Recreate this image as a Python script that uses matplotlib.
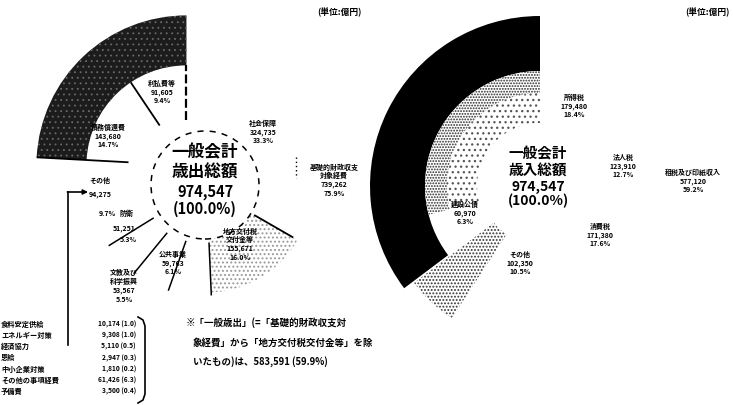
import matplotlib
matplotlib.use('Agg')
import numpy as np
import matplotlib.pyplot as plt
from matplotlib.patches import Wedge, Circle

plt.rcParams['font.family'] = ['Noto Sans CJK JP', 'DejaVu Sans']
plt.rcParams['font.weight'] = 'bold'
plt.rcParams['hatch.linewidth'] = 0.9

W, H = 733, 405

# 歳出 (億円) - counter-clockwise from 12 o'clock
exp_names = ['国債費', 'その他', '防衛', '文教及び\n科学振興', '公共事業', '地方交付税\n交付金等', '社会保障']
exp_vals = [235285, 94275, 51251, 53567, 59763, 155671, 324735]
exp_total = 974547
debt_names = ['利払費等', '債務償還費']
debt_vals = [91605, 143680]
basic_name = '基礎的財政収支\n対象経費'
basic_val = 739262
general_val = 583591

misc_names = ['食料安定供給', 'エネルギー対策', '経済協力', '恩給', '中小企業対策', 'その他の事項経費', '予備費']
misc_vals = [10174, 9308, 5110, 2947, 1810, 61426, 3500]

# 歳入 (億円) - clockwise from 12 o'clock
rev_names = ['所得税', '法人税', '消費税', 'その他', 'その他収入', '建設公債', '特例公債']
rev_vals = [179480, 123910, 171380, 102350, 53729, 60970, 282728]
rev_total = 974547
tax_name = '租税及び印紙収入'
tax_val = 577120


def num(v):
    return f'{v:,}'


def pct(v, total=exp_total):
    return f'{v / total * 100:.1f}%'


def Y(y):
    return H - y


fig = plt.figure(figsize=(W / 100, H / 100), dpi=100)
ax = fig.add_axes([0, 0, 1, 1])

# ---------------- left: 歳出 ----------------
cxL, cyL = 205, Y(185)
explode_L = [27, 4, 6, 6, 4, 3, 0]   # offsets in px (data units)
wL, _ = ax.pie(exp_vals, radius=105, center=(cxL, cyL), startangle=90,
               counterclock=True, explode=explode_L, frame=True,
               wedgeprops=dict(facecolor='white', edgecolor='none', linewidth=0))

debt = wL[0]
plt.rcParams['hatch.linewidth'] = 0.6
ax.add_patch(Wedge(debt.center, 150, debt.theta1, debt.theta2, width=50,
                   facecolor='#1c1c1c', edgecolor='#6a6a6a', hatch='...',
                   linewidth=0, zorder=2))
plt.rcParams['hatch.linewidth'] = 0.9


def radial(center, ang, r0, r1, **kw):
    a = np.deg2rad(ang)
    ax.plot([center[0] + r0 * np.cos(a), center[0] + r1 * np.cos(a)],
            [center[1] + r0 * np.sin(a), center[1] + r1 * np.sin(a)],
            color='black', zorder=3, solid_capstyle='butt', **kw)


split = debt.theta1 + debt_vals[0] / sum(debt_vals) * (debt.theta2 - debt.theta1)
radial(debt.center, split, 48, 100, lw=1.3)
radial(debt.center, debt.theta1, 45, 100, lw=1.6, linestyle=(0, (4, 1.5)))
radial(debt.center, debt.theta2, 58, 150, lw=1.3)

loc = wL[5]
ax.add_patch(Wedge(loc.center, 105, loc.theta1, loc.theta2, width=55,
                   facecolor='white', edgecolor='#9a9a9a', hatch='....',
                   linewidth=0, zorder=2))
for w in wL[2:6]:
    radial(w.center, w.theta1, 55, 108, lw=1.1)
radial(loc.center, loc.theta2, 55, 100, lw=1.3)

ax.add_patch(Circle((cxL, cyL), 54, facecolor='white', edgecolor='black',
                    linewidth=1.1, linestyle=(0, (4, 4)), zorder=4))

small = dict(ha='center', va='center', fontsize=5, linespacing=1.25, zorder=5)
ax.text(162, Y(92), f'{debt_names[0]}\n{num(debt_vals[0])}\n{pct(debt_vals[0])}', **small)
ax.text(108, Y(136), f'{debt_names[1]}\n{num(debt_vals[1])}\n{pct(debt_vals[1])}', **small)
ax.text(263, Y(132), f'{exp_names[6]}\n{num(exp_vals[6])}\n{pct(exp_vals[6])}', **small)
ax.text(334, Y(180), f'{basic_name}\n{num(basic_val)}\n{pct(basic_val)}', **small)
ax.plot([296, 296], [Y(157), Y(178)], color='black', lw=1, linestyle=(0, (1, 2)))
ax.text(100, Y(180), exp_names[1], **small)
ax.text(100, Y(195), num(exp_vals[1]), **small)
ax.text(107, Y(213), pct(exp_vals[1]), **small)
ax.text(126, Y(213), exp_names[2], **small)
ax.text(124, Y(229), num(exp_vals[2]), **small)
ax.text(128, Y(240), pct(exp_vals[2]), **small)
ax.text(124, Y(286), f'{exp_names[3]}\n{num(exp_vals[3])}\n{pct(exp_vals[3])}', **small)
ax.text(173, Y(263), f'{exp_names[4]}\n{num(exp_vals[4])}\n{pct(exp_vals[4])}', **small)
ax.text(240, Y(244), f'{exp_names[5]}\n{num(exp_vals[5])}\n{pct(exp_vals[5])}', **small)

big = dict(ha='center', va='center', zorder=5)
ax.text(cxL, Y(152), '一般会計', fontsize=12, **big)
ax.text(cxL, Y(173), '歳出総額', fontsize=12, **big)
ax.text(cxL, Y(192), num(exp_total), fontsize=10.5, **big)
ax.text(cxL, Y(209), f'({pct(exp_total)})', fontsize=10.5, **big)

# その他 breakdown
ax.plot([68, 68], [Y(345), Y(192)], color='black', lw=1.2)
ax.annotate('', xy=(88, Y(192)), xytext=(67.4, Y(192)),
            arrowprops=dict(arrowstyle='-|>', lw=1.2, color='black',
                            mutation_scale=7, shrinkA=0, shrinkB=0))
for i, (n, v) in enumerate(zip(misc_names, misc_vals)):
    yy = Y(324 + i * 11.3)
    ax.text(1, yy, n, ha='left', va='center', fontsize=5.2, zorder=5)
    ax.text(136, yy, f'{num(v)} ({v / exp_total * 100:.1f})', ha='right',
            va='center', fontsize=4.8, zorder=5)
ax.plot([138, 143, 145, 145, 143, 138],
        [Y(317), Y(320), Y(326), Y(394), Y(400), Y(403)], color='black', lw=1.2)

note = ['※「一般歳出」(=「基礎的財政収支対',
        '象経費」から「地方交付税交付金等」を除',
        f'いたもの)は、{num(general_val)} ({pct(general_val)})']
ax.text(186, Y(323), note[0], ha='left', va='center', fontsize=6.8)
ax.text(193, Y(343), note[1], ha='left', va='center', fontsize=6.8)
ax.text(193, Y(362), note[2], ha='left', va='center', fontsize=6.8)

ax.text(362, Y(12), '(単位:億円)', ha='right', va='center', fontsize=6.3)

# ---------------- right: 歳入 ----------------
cxR, cyR = 540, Y(186)
explode_R = [0, 0, 0, 0, 9, 0, 0]
wR, _ = ax.pie(rev_vals, radius=115, center=(cxR, cyR), startangle=90,
               counterclock=False, explode=explode_R, frame=True,
               wedgeprops=dict(facecolor='white', edgecolor='none', linewidth=0))

bond_lo = min(wR[5].theta1, wR[6].theta1)
bond_hi = max(wR[5].theta2, wR[6].theta2)
ax.add_patch(Wedge((cxR, cyR), 170, bond_lo, bond_hi, width=55,
                   facecolor='black', edgecolor='none', zorder=2))
sp = wR[6]
ax.add_patch(Wedge(sp.center, 115, sp.theta1, sp.theta2, width=22,
                   facecolor='white', edgecolor='#2a2a2a', hatch='......',
                   linewidth=0, zorder=2))
ax.add_patch(Wedge(sp.center, 93, sp.theta1, sp.theta2, width=30,
                   facecolor='white', edgecolor='#555555', hatch='...',
                   linewidth=0, zorder=2))
oth = wR[4]
ax.add_patch(Wedge(oth.center, 150, oth.theta1, oth.theta2, width=100,
                   facecolor='white', edgecolor='#333333', hatch='.....',
                   linewidth=0, zorder=2))

ax.text(574, Y(106), f'{rev_names[0]}\n{num(rev_vals[0])}\n{pct(rev_vals[0], rev_total)}', **small)
ax.text(623, Y(166), f'{rev_names[1]}\n{num(rev_vals[1])}\n{pct(rev_vals[1], rev_total)}', **small)
ax.text(693, Y(181), f'{tax_name}\n{num(tax_val)}\n{pct(tax_val, rev_total)}', **small)
ax.text(600, Y(235), f'{rev_names[2]}\n{num(rev_vals[2])}\n{pct(rev_vals[2], rev_total)}', **small)
ax.text(520, Y(263), f'{rev_names[3]}\n{num(rev_vals[3])}\n{pct(rev_vals[3], rev_total)}', **small)
ax.text(465, Y(213), f'{rev_names[5]}\n{num(rev_vals[5])}\n{pct(rev_vals[5], rev_total)}', **small)

ax.text(538, Y(153), '一般会計', fontsize=10.5, **big)
ax.text(538, Y(170), '歳入総額', fontsize=10.5, **big)
ax.text(538, Y(187), num(rev_total), fontsize=10, **big)
ax.text(538, Y(201), f'({pct(rev_total, rev_total)})', fontsize=10, **big)

ax.text(730, Y(12), '(単位:億円)', ha='right', va='center', fontsize=6.3)

ax.set_xlim(0, W)
ax.set_ylim(0, H)
ax.set_aspect('equal')
ax.axis('off')

fig.savefig('out.png', dpi=100)
